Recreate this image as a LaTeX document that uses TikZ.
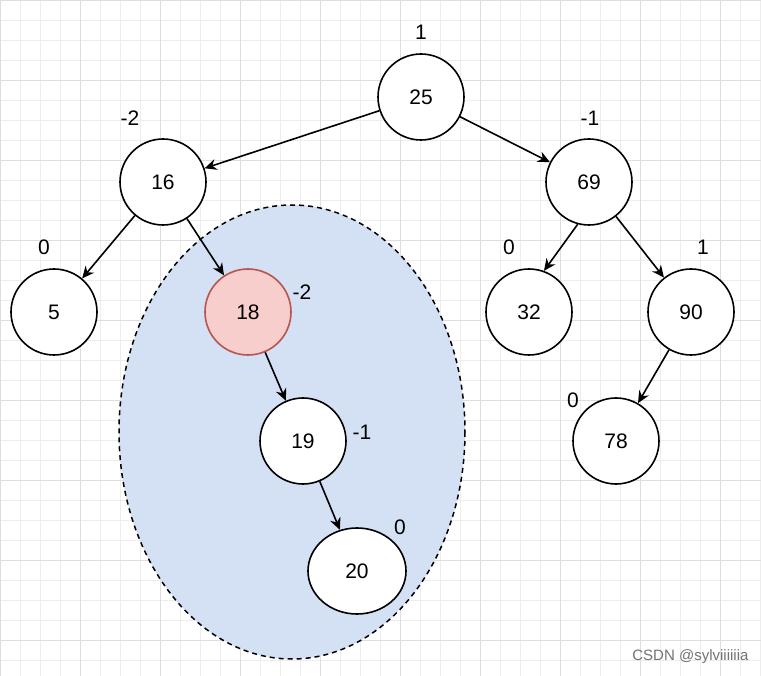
\documentclass[tikz,border=0pt]{standalone}
\usepackage{fontspec}
\setmainfont{Liberation Sans}
\usetikzlibrary{arrows.meta,shapes.geometric}
\definecolor{bluefill}{HTML}{D4E1F5}
\definecolor{redfill}{HTML}{F8CECC}
\definecolor{redline}{HTML}{B85450}
\begin{document}
\begin{tikzpicture}[x=1pt,y=-1pt,
  nd/.style={circle,draw=black,line width=1.6pt,fill=white,minimum size=86pt,inner sep=0pt,font=\fontsize{21}{24}\selectfont},
  lb/.style={font=\fontsize{21}{24}\selectfont},
  ar/.style={line width=1.6pt,-{Stealth[length=12pt,width=11pt]}}]
\useasboundingbox (0,0) rectangle (761,676);
\fill[white] (0,0) rectangle (761,676);
\foreach \i in {0,20,...,760} {\draw[black!7,line width=0.6pt] (\i,0) -- (\i,676);}
\foreach \i in {0,20,...,676} {\draw[black!7,line width=0.6pt] (0,\i) -- (761,\i);}
\foreach \i in {0,80,...,760} {\draw[black!13,line width=0.7pt] (\i,0) -- (\i,676);}
\foreach \i in {0,80,...,676} {\draw[black!13,line width=0.7pt] (0,\i) -- (761,\i);}
\draw[line width=1.5pt,fill=bluefill,dash pattern=on 5pt off 4pt] (292,432) ellipse [x radius=173,y radius=227];
\node[nd] (n25) at (421,97) {25};
\node[nd] (n16) at (163,182) {16};
\node[nd] (n69) at (589,182) {69};
\node[nd] (n5) at (54,312) {5};
\node[nd,fill=redfill,draw=redline] (n18) at (248,312) {18};
\node[nd] (n32) at (529,312) {32};
\node[nd] (n90) at (691,312) {90};
\node[nd] (n19) at (303,441) {19};
\node[nd] (n78) at (616,441) {78};
\node[nd,ellipse,minimum width=98pt,minimum height=86pt] (n20) at (357,571) {20};
\draw[ar] (n25) -- (n16);
\draw[ar] (n25) -- (n69);
\draw[ar] (n16) -- (n5);
\draw[ar] (n16) -- (n18);
\draw[ar] (n69.255) -- (n32.70);
\draw[ar] (n69) -- (n90);
\draw[ar] (n18) -- (n19);
\draw[ar] (n19) -- (n20);
\draw[ar] (n90) -- (n78);
\node[lb] (l25) at (421,32) {1};
\node[lb] (l16) at (130,118) {-2};
\node[lb] (l69) at (590,118) {-1};
\node[lb] (l5) at (44,247) {0};
\node[lb] (l18) at (302,292) {-2};
\node[lb] (l32) at (509,247) {0};
\node[lb] (l90) at (703,247) {1};
\node[lb] (l19) at (362,432) {-1};
\node[lb] (l78) at (573,400) {0};
\node[lb] (l20) at (400,527) {0};
\node[font=\fontsize{15}{17}\selectfont,text=black!55,anchor=east] (wm) at (752,657) {CSDN @sylviiiiiia};
\end{tikzpicture}
\end{document}
